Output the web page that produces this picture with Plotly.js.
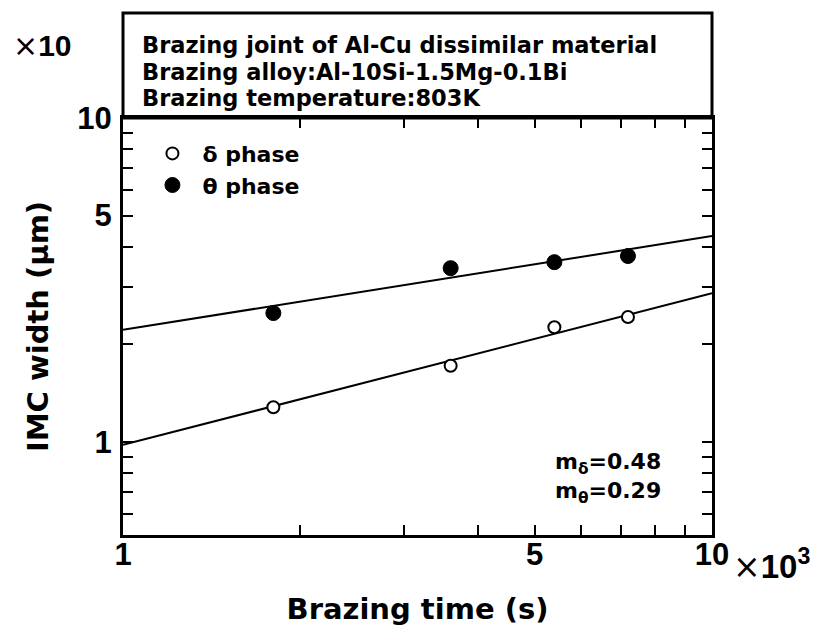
<!DOCTYPE html>
<html>
<head>
<meta charset="utf-8">
<script src="https://cdn.plot.ly/plotly-3.0.1.min.js"></script>
<style>html,body{margin:0;padding:0;background:#fff;}#chart{width:828px;height:629px;}</style>
</head>
<body>
<div id="chart"></div>
<script>
// Data (brazing time in 10^3 s, IMC width in 10 um)
const timeX = [1.8, 3.6, 5.4, 7.2];
const deltaW = [1.28, 1.72, 2.26, 2.43];
const thetaW = [2.50, 3.44, 3.59, 3.75];
const fitX = [1, 10];
const fitDelta = [0.98, 2.88];
const fitTheta = [2.22, 4.32];
const xTickVals = [1, 2, 3, 4, 5, 6, 7, 8, 9, 10];
const xTickText = ['1', '', '', '', '5', '', '', '', '', '10'];
const yTickVals = [0.6, 0.7, 0.8, 0.9, 1, 2, 3, 4, 5, 6, 7, 8, 9, 10];
const yTickText = ['', '', '', '', '1', '', '', '', '5', '', '', '', '', '10'];
const boxLines = ['Brazing joint of Al-Cu dissimilar material', 'Brazing alloy:Al-10Si-1.5Mg-0.1Bi', 'Brazing temperature:803K'];
const legendNames = ['δ phase', 'θ phase'];

const FONT = 'Liberation Sans, Arial, Helvetica, sans-serif';
const WIDE = 'DejaVu Sans, Verdana, sans-serif';

const traces = [
  {x: fitX, y: fitDelta, mode: 'lines', line: {color: '#000', width: 2}, showlegend: false, hoverinfo: 'skip'},
  {x: fitX, y: fitTheta, mode: 'lines', line: {color: '#000', width: 2}, showlegend: false, hoverinfo: 'skip'},
  {x: timeX, y: deltaW, mode: 'markers', name: legendNames[0],
   marker: {symbol: 'circle', size: 12, color: '#fff', line: {color: '#000', width: 2}}},
  {x: timeX, y: thetaW, mode: 'markers', name: legendNames[1],
   marker: {symbol: 'circle', size: 15, color: '#000', line: {color: '#000', width: 1}}}
];

const axisCommon = {
  showline: true, linecolor: '#000', linewidth: 3, mirror: 'ticks',
  ticks: 'inside', ticklen: 10, tickwidth: 2, tickcolor: '#000',
  showgrid: false, zeroline: false,
  tickfont: {family: FONT, size: 31, color: '#000', weight: 'bold'}
};

const boxTop = 1 + 105 / 417;
const annotations = boxLines.map((t, i) => ({
  xref: 'paper', yref: 'paper', x: 0.029, y: [1.175, 1.111, 1.048][i],
  xanchor: 'left', yanchor: 'middle', showarrow: false, text: '<b>' + t + '</b>',
  font: {family: WIDE, size: 22.5, color: '#000'}
}));
annotations.push(
  {xref: 'paper', yref: 'paper', x: -0.137, y: 1.175, xanchor: 'center', yanchor: 'middle', showarrow: false,
   text: '<span style="font-family:DejaVu Sans;font-weight:normal">×</span><b>10</b>', font: {family: FONT, size: 30, color: '#000'}},
  {xref: 'paper', yref: 'paper', x: 1.033, y: -0.07, xanchor: 'left', yanchor: 'middle', showarrow: false,
   text: '<span style="font-family:DejaVu Sans;font-weight:normal">×</span><b>10<sup>3</sup></b>', font: {family: FONT, size: 33, color: '#000'}},
  {xref: 'paper', yref: 'paper', x: 0.916, y: 0.172, xanchor: 'right', yanchor: 'middle', showarrow: false,
   text: '<b>m<sub>δ</sub>=0.48</b>', font: {family: WIDE, size: 22, color: '#000'}},
  {xref: 'paper', yref: 'paper', x: 0.916, y: 0.102, xanchor: 'right', yanchor: 'middle', showarrow: false,
   text: '<b>m<sub>θ</sub>=0.29</b>', font: {family: WIDE, size: 22, color: '#000'}}
);

const layout = {
  width: 828, height: 629,
  margin: {l: 123, r: 116, t: 118, b: 94},
  paper_bgcolor: '#fff', plot_bgcolor: '#fff',
  font: {family: FONT, color: '#000'},
  xaxis: Object.assign({}, axisCommon, {
    type: 'log', range: [0, 1], tickvals: xTickVals, ticktext: xTickText, ticklabelstandoff: -10,
    title: {text: '<b>Brazing time (s)</b>', font: {family: WIDE, size: 29, color: '#000'}, standoff: 28}
  }),
  yaxis: Object.assign({}, axisCommon, {
    type: 'log', range: [-0.287, 1], tickvals: yTickVals, ticktext: yTickText, ticklabelstandoff: 2,
    title: {text: '<b>IMC width (μm)</b>', font: {family: WIDE, size: 29, color: '#000'}, standoff: 21}
  }),
  showlegend: true,
  legend: {x: 0.033, y: 0.965, xanchor: 'left', yanchor: 'top', bgcolor: 'rgba(0,0,0,0)', itemwidth: 50,
    font: {family: WIDE, size: 22, color: '#000', weight: 'bold'}, tracegroupgap: 0},
  shapes: [
    {type: 'rect', xref: 'paper', yref: 'paper', x0: 0, x1: 1, y0: 1, y1: boxTop,
     line: {color: '#000', width: 3}, fillcolor: 'rgba(0,0,0,0)'}
  ],
  annotations: annotations
};

Plotly.newPlot('chart', traces, layout, {displayModeBar: false, staticPlot: true});
</script>
</body>
</html>
